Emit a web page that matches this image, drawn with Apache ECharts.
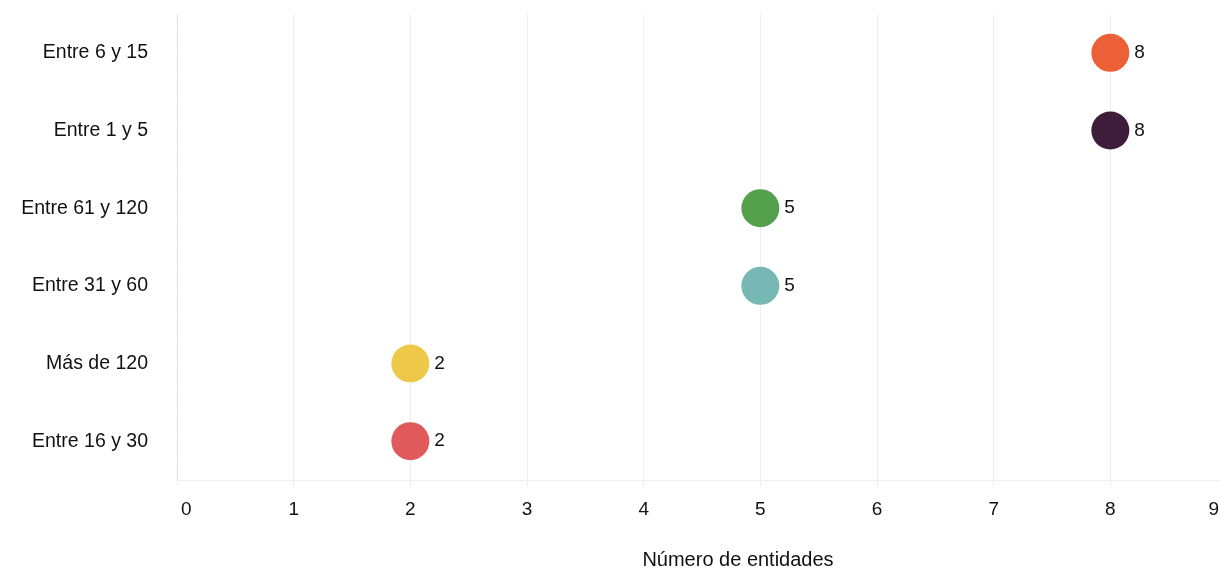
<!DOCTYPE html>
<html>
<head>
<meta charset="utf-8">
<script src="https://cdn.jsdelivr.net/npm/echarts@6/dist/echarts.min.js"></script>
<style>
  html, body { margin: 0; padding: 0; background: #fff; }
  #chartBox { width: 1221px; height: 570px; }
</style>
</head>
<body>
<div id="chartBox"></div>
<script>
// categorías de abajo hacia arriba
const categories = ['Entre 16 y 30', 'Más de 120', 'Entre 31 y 60', 'Entre 61 y 120', 'Entre 1 y 5', 'Entre 6 y 15']
const values = [2, 2, 5, 5, 8, 8]
const colors = ['#e05a5b', '#eec949', '#78b8b4', '#55a04c', '#3e1d3b', '#ec6038']
const xTicks = [0, 1, 2, 3, 4, 5, 6, 7, 8, 9]

const font = '"Liberation Sans", Arial, sans-serif'
const myChart = echarts.init(document.getElementById('chartBox'))

myChart.setOption({
  animation: false,
  grid: { left: 177, right: -6, top: 14, bottom: 90, outerBoundsMode: 'none' },
  xAxis: {
    type: 'value',
    min: xTicks[0],
    max: xTicks[xTicks.length - 1],
    interval: 1,
    name: 'Número de entidades',
    nameLocation: 'middle',
    nameGap: 70,
    nameTextStyle: { color: '#111', fontSize: 20, fontFamily: font, padding: [0, 0, 0, 72] },
    axisLine: { show: true, lineStyle: { color: '#eeeeee' } },
    axisTick: { show: true, length: 7, lineStyle: { color: '#eeeeee' } },
    axisLabel: {
      color: '#111', fontSize: 19, fontFamily: font, margin: 20,
      alignMinLabel: 'left', alignMaxLabel: 'right',
      formatter: v => v === xTicks[0] ? '{first|' + v + '}' : v === xTicks[xTicks.length - 1] ? '{last|' + v + '}' : String(v),
      rich: {
        first: { padding: [0, 0, 0, 4], fontSize: 19, fontFamily: font, color: '#111' },
        last: { padding: [0, 8, 0, 0], fontSize: 19, fontFamily: font, color: '#111' }
      }
    },
    splitLine: { show: true, lineStyle: { color: '#eeeeee' } }
  },
  yAxis: {
    type: 'category',
    data: categories,
    axisLine: { show: true, lineStyle: { color: '#dddddd', type: 'dashed' } },
    axisTick: { show: false },
    axisLabel: { color: '#111', fontSize: 19.5, fontFamily: font, margin: 29 },
    splitLine: { show: false }
  },
  series: [{
    type: 'scatter',
    symbolSize: 38,
    data: values.map((v, i) => ({
      value: [v, categories[i]],
      itemStyle: { color: colors[i], opacity: 1 }
    })),
    label: {
      show: true,
      position: 'right',
      distance: 5,
      color: '#111',
      fontSize: 19,
      fontFamily: font,
      formatter: p => p.value[0]
    }
  }]
})
</script>
</body>
</html>
